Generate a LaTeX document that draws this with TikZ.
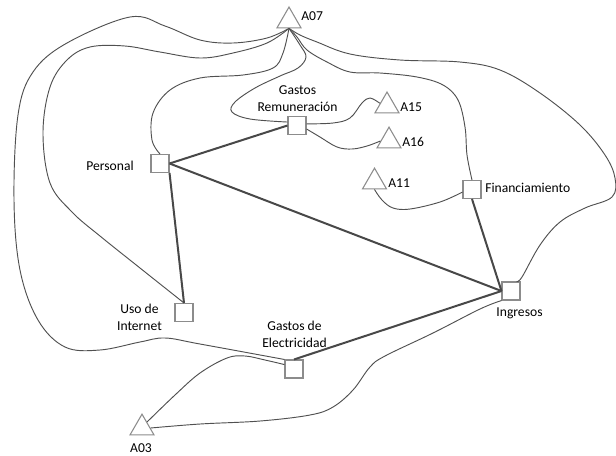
\documentclass[tikz,border=0pt]{standalone}
\usepackage{fontspec}
\setmainfont{Carlito}
\usetikzlibrary{shapes.geometric}
\definecolor{boxgray}{HTML}{8C8C8C}
\definecolor{curvegray}{HTML}{505050}
\definecolor{edgegray}{HTML}{484848}
\begin{document}
\begin{tikzpicture}[x=0.75pt,y=-0.75pt,
  tri/.style={regular polygon, regular polygon sides=3, draw=boxgray, fill=white, line width=0.8pt, minimum size=20.8pt, inner sep=0pt},
  sq/.style={rectangle, draw=boxgray, fill=white, line width=0.8pt, minimum size=13.5pt, inner sep=0pt},
  lbl/.style={font=\fontsize{10.2}{12.75}\selectfont, inner sep=0pt, align=center, text=black},
  link/.style={draw=curvegray, line width=0.7pt},
  strong/.style={draw=edgegray, line width=1.5pt}]
\useasboundingbox (0,0) rectangle (616,455);

% nodes
\node[tri] (A07) at (289,20.9) {};
\node[tri] (A15) at (387,105.9) {};
\node[tri] (A16) at (389,141) {};
\node[tri] (A11) at (374.5,182) {};
\node[tri] (A03) at (142,428) {};
\node[sq] (P) at (160,163.5) {};
\node[sq] (GR) at (297,125.5) {};
\node[sq] (F) at (472,189.5) {};
\node[sq] (I) at (511,291) {};
\node[sq] (UI) at (184,312.5) {};
\node[sq] (GE) at (294,369) {};

% labels
\node[lbl, anchor=west] (lA07) at (301,16) {A07};
\node[lbl] (lGR) at (297.5,99) {Gastos\\Remuneración};
\node[lbl] (lP) at (110,166) {Personal};
\node[lbl, anchor=west] (lA15) at (400,107) {A15};
\node[lbl, anchor=west] (lA16) at (402,142) {A16};
\node[lbl, anchor=west] (lA11) at (388,183) {A11};
\node[lbl, anchor=west] (lF) at (485,188) {Financiamiento};
\node[lbl] (lI) at (519.5,313) {Ingresos};
\node[lbl] (lUI) at (139.5,317) {Uso de\\Internet};
\node[lbl] (lGE) at (294.5,334.5) {Gastos de\\Electricidad};
\node[lbl] (lA03) at (141,448) {A03};

% thin curves
\draw[link] plot[smooth, tension=0.6] coordinates {(A07.south) (267,38) (233,43) (200,40) (165,26) (130,17) (67,43) (33,72) (18,115) (14,200) (20,270) (38,320) (65,347) (100,350) (140,342) (165,338) (200,344) (GE.north west)};
\draw[link] plot[smooth, tension=0.6] coordinates {(A07.south) (267,43) (233,53) (200,58) (160,52) (125,46) (90,47) (67,60) (50,87) (43,133) (50,183) (72,212) (100,236) (140,268) (UI.north)};
\draw[link] plot[smooth, tension=0.6] coordinates {(A07.south) (283,53) (273,68) (243,75) (200,78) (170,90) (153,113) (152,140) (P.north)};
\draw[link] plot[smooth, tension=0.6] coordinates {(A07.south) (300,45) (306,57) (298,68) (280,76) (255,88) (235,102) (232,112) (250,119) (GR.160)};
\draw[link] plot[smooth, tension=0.6] coordinates {(A07.south) (297,37) (307,50) (327,62) (350,72) (380,73) (417,77) (443,85) (458,100) (465,127) (467,155) (F.north)};
\draw[link] plot[smooth, tension=0.6] coordinates {(A07.south) (300,35) (317,42) (350,54) (400,60) (460,62) (500,70) (540,93) (580,125) (605,155) (615,178) (612,197) (585,208) (560,222) (540,245) (522,277) (I.60)};
\draw[link] plot[smooth, tension=0.6] coordinates {(GR.10) (333,123) (350,118) (362,103) (370,98) (A15.160)};
\draw[link] plot[smooth, tension=0.6] coordinates {(GR.-20) (320,137) (337,147) (352,149) (367,146) (A16.west)};
\draw[link] plot[smooth, tension=0.6] coordinates {(A11.south) (382,200) (393,208) (410,209) (440,202) (F.195)};
\draw[link] plot[smooth, tension=0.6] coordinates {(A03.50) (175,395) (200,373) (227,358) (245,356) (265,360) (GE.155)};
\draw[link] plot[smooth, tension=0.6] coordinates {(A03.east) (200,424) (260,421) (310,415) (333,407) (353,390) (370,367) (385,356) (433,333) (480,309) (I.south west)};

% thick edges
\draw[strong] (P.east) -- (GR.west);
\draw[strong] (P.east) -- (I.west);
\draw[strong] (P.south east) -- (UI.north);
\draw[strong] (F.south) -- (I.west);
\draw[strong] (GE.north) -- (I.west);
\end{tikzpicture}
\end{document}
